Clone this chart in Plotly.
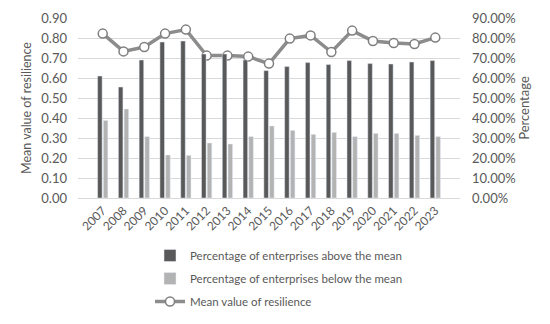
import plotly.graph_objects as go

years = [str(y) for y in range(2007, 2024)]
above = [0.61, 0.555, 0.69, 0.78, 0.785, 0.72, 0.72, 0.69, 0.637, 0.657, 0.677, 0.667, 0.687, 0.672, 0.67, 0.68, 0.687]
below = [0.388, 0.445, 0.307, 0.215, 0.213, 0.275, 0.27, 0.307, 0.36, 0.338, 0.318, 0.328, 0.307, 0.323, 0.323, 0.313, 0.307]
mean_res = [0.822, 0.733, 0.755, 0.822, 0.842, 0.712, 0.712, 0.707, 0.672, 0.797, 0.813, 0.73, 0.837, 0.785, 0.775, 0.77, 0.802]

# page body has an 8px margin, so the figure is drawn 8px smaller and shifted
W, H = 542, 316
L, R, T, B = 70, 90, 10, 126
pw, ph = W - L - R, H - T - B
txt = "#595959"
grid = "#d9d9d9"
font_family = "Lato, 'Open Sans', sans-serif"

fig = go.Figure()
fig.add_trace(go.Bar(x=years, y=above, name="Percentage of enterprises above the mean",
                     marker_color="#595959", yaxis="y2", legendgroup="a"))
fig.add_trace(go.Bar(x=years, y=below, name="Percentage of enterprises below the mean",
                     marker_color="#b3b3b3", yaxis="y2", legendgroup="b"))
fig.add_trace(go.Scatter(x=years, y=mean_res, name="Mean value of resilience", mode="lines+markers",
                         line=dict(color="#8c8c8c", width=3.5),
                         marker=dict(size=9, color="white", line=dict(color="#7f7f7f", width=1.5)),
                         legendgroup="c"))

fig.update_layout(
    width=W, height=H,
    margin=dict(l=L, r=R, t=T, b=B, autoexpand=False),
    paper_bgcolor="white", plot_bgcolor="white",
    font=dict(family=font_family, color=txt, size=12),
    barmode="group", bargap=0.45, bargroupgap=0.2,
    showlegend=True,
    legend=dict(orientation="v", x=(142 - L) / pw, xanchor="left",
                y=(T + ph - 233) / ph, yanchor="top", yref="paper",
                font=dict(size=11.5, color=txt), tracegroupgap=4,
                bgcolor="rgba(0,0,0,0)"),
    xaxis=dict(type="category", tickangle=-45, tickfont=dict(size=12, color=txt), automargin=False,
               showgrid=False, showline=True, linecolor=grid, ticks="", ticklen=0),
    yaxis=dict(range=[0, 0.9], dtick=0.1, tickformat=".2f", showgrid=True, gridcolor=grid,
               zeroline=True, zerolinecolor=grid, ticklabelstandoff=10, automargin=False,
               title=dict(text="Mean value of resilience", font=dict(size=12.5, color=txt), standoff=6),
               tickfont=dict(size=13, color=txt)),
    yaxis2=dict(range=[0, 0.9], dtick=0.1, tickformat=".2%", overlaying="y", side="right",
                showgrid=False, zeroline=False, ticklabelstandoff=11, automargin=False,
                title=dict(text="Percentage", font=dict(size=13, color=txt), standoff=4),
                tickfont=dict(size=13, color=txt)),
)

fig.write_html("out.html")
